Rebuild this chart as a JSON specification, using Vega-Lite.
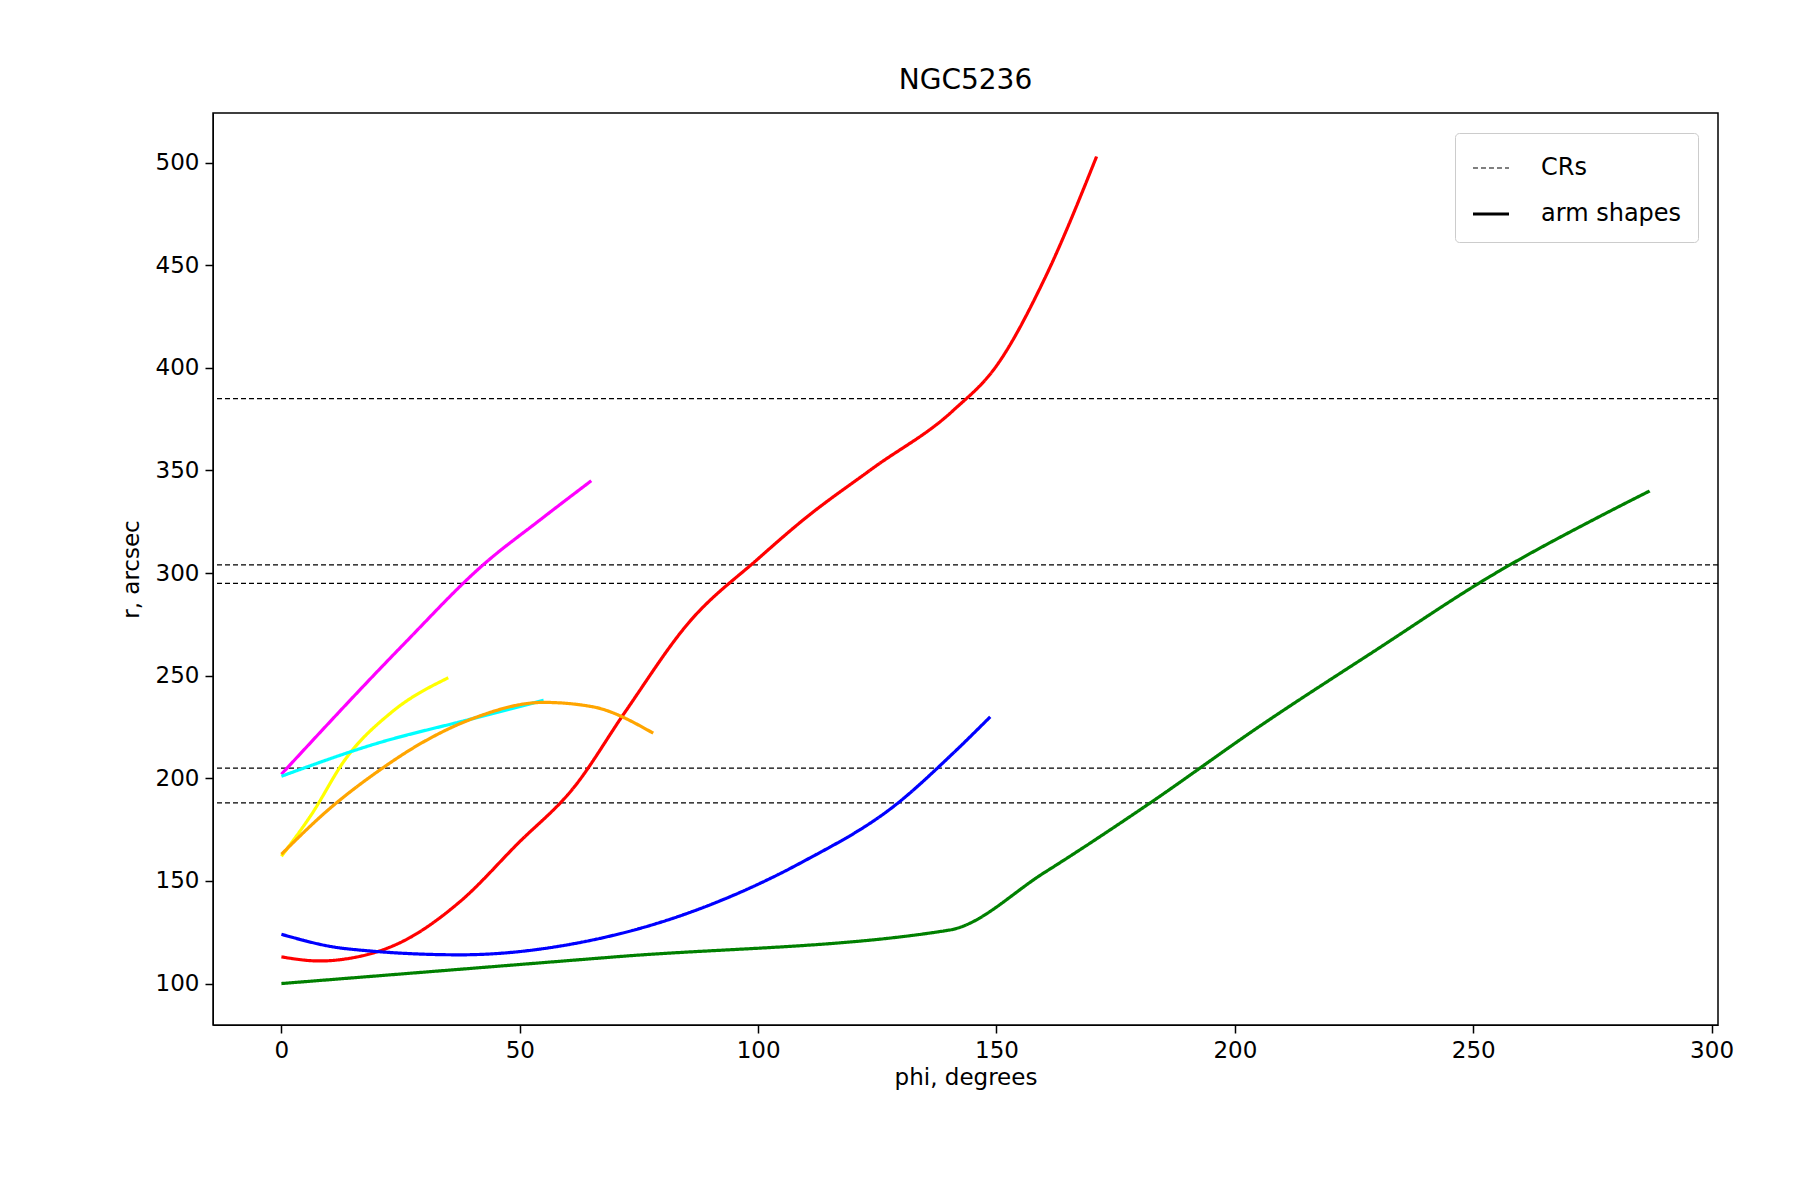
{
  "$schema": "https://vega.github.io/schema/vega-lite/v6.json",
  "width": 1505,
  "height": 912,
  "autosize": {"type": "none"},
  "padding": {"left": 213, "top": 113, "right": 82, "bottom": 175},
  "background": "white",
  "config": {
    "font": "DejaVu Sans",
    "view": {"stroke": "black", "strokeWidth": 1.5},
    "axis": {"grid": false, "domainColor": "black", "tickColor": "black", "labelColor": "black", "titleColor": "black", "labelFontSize": 23, "titleFontSize": 23, "titleFontWeight": "normal", "tickSize": 8, "tickWidth": 1.5, "labelPadding": 6},
    "legend": {"labelFontSize": 24, "labelColor": "black", "strokeColor": "#cccccc", "cornerRadius": 4, "padding": 16, "symbolSize": 1300, "symbolStrokeColor": "black", "rowPadding": 14, "labelOffset": 30, "title": null}
  },
  "title": {"text": "NGC5236", "fontSize": 28, "fontWeight": "normal", "offset": 18, "color": "black"},
  "datasets": {
    "arms": [
      {"arm": "red", "phi": 0, "r": 113}, {"arm": "red", "phi": 8, "r": 111}, {"arm": "red", "phi": 13.5, "r": 112}, {"arm": "red", "phi": 25.5, "r": 120.6}, {"arm": "red", "phi": 37.5, "r": 140}, {"arm": "red", "phi": 49.5, "r": 168}, {"arm": "red", "phi": 61.5, "r": 196}, {"arm": "red", "phi": 72, "r": 232}, {"arm": "red", "phi": 85.5, "r": 276}, {"arm": "red", "phi": 100, "r": 307}, {"arm": "red", "phi": 109.5, "r": 326}, {"arm": "red", "phi": 124, "r": 351}, {"arm": "red", "phi": 140.8, "r": 379}, {"arm": "red", "phi": 150, "r": 401}, {"arm": "red", "phi": 160, "r": 443}, {"arm": "red", "phi": 171, "r": 503},
      {"arm": "blue", "phi": 0, "r": 124}, {"arm": "blue", "phi": 13.5, "r": 117}, {"arm": "blue", "phi": 37.5, "r": 114}, {"arm": "blue", "phi": 61.5, "r": 119.5}, {"arm": "blue", "phi": 85.5, "r": 134.5}, {"arm": "blue", "phi": 109.5, "r": 159.5}, {"arm": "blue", "phi": 128.8, "r": 187}, {"arm": "blue", "phi": 140.8, "r": 212}, {"arm": "blue", "phi": 148.7, "r": 230},
      {"arm": "green", "phi": 0, "r": 100}, {"arm": "green", "phi": 70, "r": 113}, {"arm": "green", "phi": 140, "r": 126}, {"arm": "green", "phi": 160, "r": 154}, {"arm": "green", "phi": 181.6, "r": 187}, {"arm": "green", "phi": 205.6, "r": 226}, {"arm": "green", "phi": 229.6, "r": 262.5}, {"arm": "green", "phi": 253.7, "r": 298.6}, {"arm": "green", "phi": 277.7, "r": 329}, {"arm": "green", "phi": 287, "r": 340},
      {"arm": "magenta", "phi": 0, "r": 202}, {"arm": "magenta", "phi": 25.5, "r": 265}, {"arm": "magenta", "phi": 42.3, "r": 304}, {"arm": "magenta", "phi": 54.3, "r": 326}, {"arm": "magenta", "phi": 65, "r": 345},
      {"arm": "yellow", "phi": 0, "r": 162}, {"arm": "yellow", "phi": 6.2, "r": 182}, {"arm": "yellow", "phi": 13.5, "r": 209.6}, {"arm": "yellow", "phi": 23, "r": 232}, {"arm": "yellow", "phi": 35, "r": 249},
      {"arm": "cyan", "phi": 0, "r": 201}, {"arm": "cyan", "phi": 20, "r": 217}, {"arm": "cyan", "phi": 40, "r": 229}, {"arm": "cyan", "phi": 55, "r": 238},
      {"arm": "orange", "phi": 0, "r": 163}, {"arm": "orange", "phi": 10, "r": 185}, {"arm": "orange", "phi": 20, "r": 203}, {"arm": "orange", "phi": 30, "r": 218}, {"arm": "orange", "phi": 40, "r": 229}, {"arm": "orange", "phi": 55, "r": 237}, {"arm": "orange", "phi": 65, "r": 235}, {"arm": "orange", "phi": 78, "r": 222}
    ],
    "crs": [{"r": 385}, {"r": 304}, {"r": 295}, {"r": 205}, {"r": 188}]
  },
  "layer": [
    {
      "data": {"name": "crs"},
      "transform": [{"calculate": "'CRs'", "as": "kind"}],
      "mark": {"type": "rule", "color": "black"},
      "encoding": {
        "y": {"field": "r", "type": "quantitative"},
        "strokeDash": {"field": "kind", "type": "nominal", "scale": {"domain": ["CRs", "arm shapes"], "range": [[5, 3], [1, 0]]}, "legend": {"orient": "top-right", "offset": 20}},
        "strokeWidth": {"field": "kind", "type": "nominal", "scale": {"domain": ["CRs", "arm shapes"], "range": [1.2, 3.2]}, "legend": {"orient": "top-right", "offset": 20}}
      }
    },
    {
      "data": {"name": "arms"},
      "transform": [{"calculate": "'arm shapes'", "as": "kind"}],
      "mark": {"type": "line", "interpolate": "monotone"},
      "encoding": {
        "x": {"field": "phi", "type": "quantitative", "scale": {"domain": [-14.35, 301.35], "nice": false, "zero": false}, "axis": {"values": [0, 50, 100, 150, 200, 250, 300]}, "title": "phi, degrees"},
        "y": {"field": "r", "type": "quantitative", "scale": {"domain": [79.8, 524.2], "nice": false, "zero": false}, "axis": {"values": [100, 150, 200, 250, 300, 350, 400, 450, 500], "titlePadding": 12}, "title": "r, arcsec"},
        "detail": {"field": "arm"},
        "color": {"field": "arm", "type": "nominal", "scale": {"domain": ["red", "blue", "green", "magenta", "yellow", "cyan", "orange"], "range": ["#ff0000", "#0000ff", "#008000", "#ff00ff", "#ffff00", "#00ffff", "#ffa500"]}, "legend": null},
        "order": {"field": "phi"},
        "strokeDash": {"field": "kind", "type": "nominal"},
        "strokeWidth": {"field": "kind", "type": "nominal"}
      }
    }
  ]
}
